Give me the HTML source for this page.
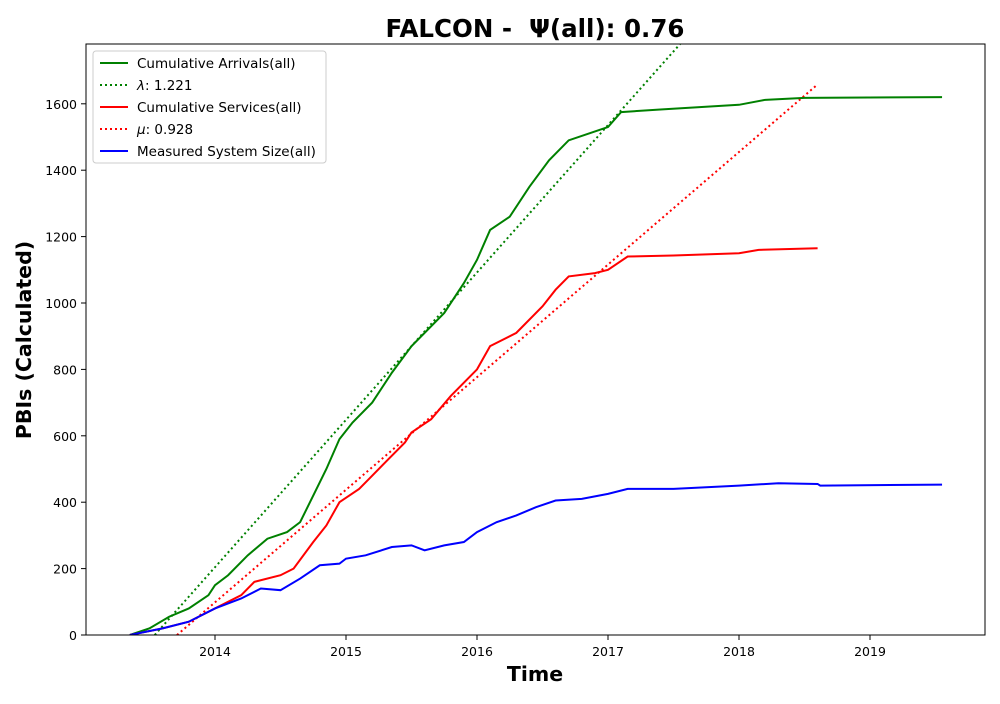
<!DOCTYPE html>
<html><head><meta charset="utf-8"><style>
body{margin:0;background:#fff;font-family:"DejaVu Sans","Liberation Sans",sans-serif}
</style></head><body>
<svg id="chart" width="1000" height="700" xmlns="http://www.w3.org/2000/svg" font-family="DejaVu Sans, Liberation Sans, sans-serif">
<text x="535" y="37" text-anchor="middle" font-size="24.5" font-weight="bold" style="white-space:pre">FALCON -  Ψ(all): 0.76</text>
<text x="535" y="681" text-anchor="middle" font-size="20.5" font-weight="bold">Time</text>
<text transform="translate(31,340) rotate(-90)" text-anchor="middle" font-size="20.5" font-weight="bold">PBIs (Calculated)</text>
<g id="plot"></g>
<rect x="86" y="44" width="899" height="591" fill="none" stroke="#000" stroke-width="1"/>
<g>
<rect x="93" y="51" width="233" height="112" fill="#fff" stroke="#ccc" rx="3"/>
<g><line x1="100" y1="63" x2="128" y2="63" stroke="green" stroke-width="2"/><text x="137" y="68" font-size="13.5">Cumulative Arrivals(all)</text></g>
<g><line x1="100" y1="85" x2="128" y2="85" stroke="green" stroke-width="2" stroke-dasharray="2,3"/><text x="137" y="90" font-size="13.5"><tspan font-style="italic">λ</tspan>: 1.221</text></g>
<g><line x1="100" y1="107" x2="128" y2="107" stroke="red" stroke-width="2"/><text x="137" y="112" font-size="13.5">Cumulative Services(all)</text></g>
<g><line x1="100" y1="129" x2="128" y2="129" stroke="red" stroke-width="2" stroke-dasharray="2,3"/><text x="137" y="134" font-size="13.5"><tspan font-style="italic">μ</tspan>: 0.928</text></g>
<g><line x1="100" y1="151" x2="128" y2="151" stroke="blue" stroke-width="2"/><text x="137" y="156" font-size="13.5">Measured System Size(all)</text></g>
</g>
</svg>
<script>
const xTicks=[2014,2015,2016,2017,2018,2019];
const yTicks=[0,200,400,600,800,1000,1200,1400,1600];
const arrT=[2013.35,2013.5,2013.65,2013.8,2013.95,2014.0,2014.1,2014.25,2014.4,2014.55,2014.65,2014.75,2014.85,2014.95,2015.05,2015.2,2015.35,2015.5,2015.6,2015.75,2015.9,2016.0,2016.1,2016.25,2016.4,2016.55,2016.7,2016.85,2017.0,2017.1,2017.4,2017.7,2018.0,2018.2,2018.5,2019.55];
const arrV=[0,20,55,80,120,150,180,240,290,310,340,420,500,590,640,700,790,870,910,970,1060,1130,1220,1260,1350,1430,1490,1510,1530,1575,1583,1590,1597,1612,1618,1620];
const svcT=[2013.35,2013.6,2013.8,2014.0,2014.2,2014.3,2014.5,2014.6,2014.75,2014.85,2014.95,2015.1,2015.2,2015.3,2015.45,2015.5,2015.65,2015.8,2016.0,2016.1,2016.3,2016.5,2016.6,2016.7,2016.9,2017.0,2017.15,2017.5,2018.0,2018.15,2018.6];
const svcV=[0,20,40,80,120,160,180,200,280,330,400,440,480,520,580,610,650,720,800,870,910,990,1040,1080,1090,1100,1140,1143,1150,1160,1165];
const sysT=[2013.35,2013.6,2013.8,2014.0,2014.2,2014.35,2014.5,2014.65,2014.8,2014.95,2015.0,2015.15,2015.35,2015.5,2015.6,2015.75,2015.9,2016.0,2016.15,2016.3,2016.45,2016.6,2016.8,2017.0,2017.15,2017.5,2018.0,2018.3,2018.6,2018.62,2019.55];
const sysV=[0,20,40,80,110,140,135,170,210,215,230,240,265,270,255,270,280,310,340,360,385,405,410,425,440,440,450,457,455,450,453];
const lambdaT=[2013.54,2017.55];
const lambdaV=[0,1780];
const muT=[2013.71,2018.59];
const muV=[0,1655];
const X=t=>215+(t-2014)*131;
const Y=v=>635-v*0.332;
const NS='http://www.w3.org/2000/svg';
const plot=document.getElementById('plot');
function mk(tag,attrs){const e=document.createElementNS(NS,tag);for(const k in attrs)e.setAttribute(k,attrs[k]);plot.appendChild(e);return e;}
xTicks.forEach(t=>{
 const l=mk('line',{x1:X(t),x2:X(t),y1:635,y2:640,stroke:'#000'});
 
 
 const s=mk('text',{x:X(t),y:656,'text-anchor':'middle','font-size':12.5});s.textContent=t;
 
 
});
yTicks.forEach(v=>{
 const l=mk('line',{x1:81,x2:86,y1:Y(v),y2:Y(v),stroke:'#000'});
 
 
 const s=mk('text',{x:77,y:Y(v)+5,'text-anchor':'end','font-size':12.5});s.textContent=v;
 
 
});
const defs=mk('clipPath',{id:'clip'});
const cr=document.createElementNS(NS,'rect');cr.setAttribute('x',86);cr.setAttribute('y',44);cr.setAttribute('width',899);cr.setAttribute('height',591);defs.appendChild(cr);
function line(T,V,color,dash,name){
 const p=mk('polyline',{points:T.map((t,i)=>X(t)+','+Y(V[i])).join(' '),fill:'none',stroke:color,'stroke-width':2,'clip-path':'url(#clip)'});
 if(dash)p.setAttribute('stroke-dasharray',dash);
 
 
}
line(lambdaT,lambdaV,'green','2,3','lambda-line');
line(muT,muV,'red','2,3','mu-line');
line(arrT,arrV,'green',null,'cumulative-arrivals-line');
line(svcT,svcV,'red',null,'cumulative-services-line');
line(sysT,sysV,'blue',null,'system-size-line');
</script>
</body></html>
